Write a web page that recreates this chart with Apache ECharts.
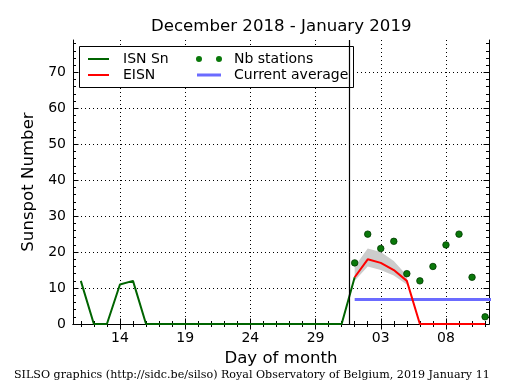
<!DOCTYPE html>
<html><head><meta charset="utf-8">
<script src="https://cdn.jsdelivr.net/npm/echarts@6/dist/echarts.min.js"></script>
<style>html,body{margin:0;padding:0;background:#fff}#c{width:515px;height:390px}</style>
</head><body><div id="c"></div>
<script>
// Day index: December days as-is, January days continue after 31 (Jan 1 = 32)
const isnDays   = [11,12,13,14,15,16,17,18,19,20,21,22,23,24,25,26,27,28,29,30,31,32];
const isnValues = [12, 0, 0,11,12, 0, 0, 0, 0, 0, 0, 0, 0, 0, 0, 0, 0, 0, 0, 0, 0,13];
const eisnDays   = [32,33,34,35,36,37,38,39,40,41,42];
const eisnValues = [13,18,17,15,12, 0, 0, 0, 0, 0, 0];
const bandDays  = [32,33,34,35,36];
const bandLower = [12,16,15,13.5,11];
const bandUpper = [16,21,20,17.5,13.5];
const stationDays   = [32,33,34,35,36,37,38,39,40,41,42];
const stationValues = [17,25,21,23,14,12,16,22,25,13, 2];
const averageDays   = [32,43];
const averageValues = [6.8,6.8];
const xTickDays   = [14,19,24,29,34,39];
const xTickLabels = ['14','19','24','29','03','08'];
const xMinorDays  = [11,12,13,14,15,16,17,18,19,20,21,22,23,24,25,26,27,28,29,30,31,32,33,34,35,36,37,38,39,40,41,42];
const yTicks      = [0,10,20,30,40,50,60,70];
const yMinor      = [0,2,4,6,8,10,12,14,16,18,20,22,24,26,28,30,32,34,36,38,40,42,44,46,48,50,52,54,56,58,60,62,64,66,68,70,72,74,76,78];
const monthBoundary = 31.55;

const X_MIN = 10.4, X_MAX = 42.3, Y_MIN = 0, Y_MAX = 79;
const FONT = 'DejaVu Sans';

const pair = (xs, ys) => xs.map((x, i) => [x, ys[i]]);

function xAxisDef(pos, major) {
  return {
    type: 'value', position: pos, min: X_MIN, max: X_MAX,
    axisLine: { show: major, lineStyle: { color: '#000', width: 1 } },
    axisTick: { show: true, inside: true, length: major ? 5.5 : 3, customValues: major ? xTickDays : xMinorDays,
                lineStyle: { color: '#000', width: 1 } },
    axisLabel: (pos === 'bottom' && major) ? {
      show: true, customValues: xTickDays, color: '#000', fontSize: 14, fontFamily: FONT, margin: 7,
      formatter: v => { const i = xTickDays.indexOf(v); return i >= 0 ? xTickLabels[i] : ''; }
    } : { show: false },
    splitLine: (pos === 'bottom' && major) ? { show: true, lineStyle: { color: '#000', width: 1, type: [1, 3] } } : { show: false },
    name: (pos === 'bottom' && major) ? 'Day of month' : '',
    nameLocation: 'middle', nameGap: 23,
    nameTextStyle: { color: '#000', fontSize: 16.6, fontFamily: FONT }
  };
}
function yAxisDef(pos, major) {
  return {
    type: 'value', position: pos, min: Y_MIN, max: Y_MAX,
    axisLine: { show: major, lineStyle: { color: '#000', width: 1 } },
    axisTick: { show: true, inside: true, length: major ? 5.5 : 3, customValues: major ? yTicks : yMinor,
                lineStyle: { color: '#000', width: 1 } },
    axisLabel: (pos === 'left' && major) ? {
      show: true, customValues: yTicks, color: '#000', fontSize: 14, fontFamily: FONT, margin: 7
    } : { show: false },
    splitLine: (pos === 'left' && major) ? { show: true, lineStyle: { color: '#000', width: 1, type: [1, 3] } } : { show: false },
    name: (pos === 'left' && major) ? 'Sunspot Number' : '',
    nameLocation: 'middle', nameGap: 34, nameRotate: 90,
    nameTextStyle: { color: '#000', fontSize: 16.6, fontFamily: FONT }
  };
}

const chart = echarts.init(document.getElementById('c'), null, { renderer: 'canvas' });
const lineIcon = 'path://M0,0M0,4h21v2h-21zM30,10';
const dotsIcon = 'path://M0,0M0,5a3,3 0 1,0 6,0a3,3 0 1,0 -6,0zM20,5a3,3 0 1,0 6,0a3,3 0 1,0 -6,0zM33,10';
const avgIcon  = 'path://M0,0M1,3.5h24v3h-24zM33,10';

chart.setOption({
  animation: false,
  backgroundColor: '#fff',
  textStyle: { fontFamily: FONT },
  title: [
    { text: 'December 2018 - January 2019', left: 151, top: 18, padding: 0,
      textStyle: { color: '#000', fontSize: 16.6, fontWeight: 'normal', fontFamily: FONT } },
    { text: 'SILSO graphics (http://sidc.be/silso) Royal Observatory of Belgium, 2019 January 11',
      left: 14, top: 370, padding: 0,
      textStyle: { color: '#000', fontSize: 11.1, fontWeight: 'normal', fontFamily: 'DejaVu Serif' } }
  ],
  grid: { left: 73, top: 40, width: 416, height: 284, containLabel: false },
  xAxis: [xAxisDef('bottom', true), xAxisDef('bottom', false), xAxisDef('top', true), xAxisDef('top', false)],
  yAxis: [yAxisDef('left', true), yAxisDef('left', false), yAxisDef('right', true), yAxisDef('right', false)],
  graphic: [{
    type: 'rect', z: 3, shape: { x: 79.5, y: 46.5, width: 274, height: 41 },
    style: { fill: '#fff', stroke: '#000', lineWidth: 1 }
  }],
  legend: [
    { left: 88, top: 51, padding: 0, orient: 'vertical', itemGap: 0, itemWidth: 30, itemHeight: 10, z: 5,
      itemStyle: { borderWidth: 0 },
      textStyle: { color: '#000', fontSize: 14, fontFamily: FONT, lineHeight: 16 },
      data: [{ name: 'ISN Sn', icon: lineIcon }, { name: 'EISN', icon: lineIcon }] },
    { left: 196, top: 51, padding: 0, orient: 'vertical', itemGap: 0, itemWidth: 33, itemHeight: 10, z: 5,
      itemStyle: { borderWidth: 0 },
      textStyle: { color: '#000', fontSize: 14, fontFamily: FONT, lineHeight: 16 },
      data: [{ name: 'Nb stations', icon: dotsIcon }, { name: 'Current average', icon: avgIcon }] }
  ],
  series: [
    { name: 'ISN Sn', type: 'line', data: pair(isnDays, isnValues), symbol: 'none', z: 2,
      lineStyle: { color: '#006400', width: 2 }, itemStyle: { color: '#006400' },
      markLine: { silent: true, symbol: 'none', label: { show: false },
        lineStyle: { color: '#000', width: 1.2, type: 'solid' }, data: [{ xAxis: monthBoundary }] } },
    { name: 'EISN band', type: 'custom', z: 2, clip: true,
      data: [[bandDays[0], bandLower[0]]],
      renderItem: (params, api) => {
        const pts = [];
        bandDays.forEach((d, i) => pts.push(api.coord([d, bandUpper[i]])));
        for (let i = bandDays.length - 1; i >= 0; i--) pts.push(api.coord([bandDays[i], bandLower[i]]));
        return { type: 'polygon', shape: { points: pts }, style: { fill: '#cccccc', stroke: null } };
      } },
    { name: 'Current average', type: 'line', data: pair(averageDays, averageValues), symbol: 'none', z: 3,
      lineStyle: { color: '#6b6bff', width: 3 }, itemStyle: { color: '#6b6bff' } },
    { name: 'EISN', type: 'line', data: pair(eisnDays, eisnValues), symbol: 'none', z: 4,
      lineStyle: { color: '#ff0000', width: 2 }, itemStyle: { color: '#ff0000' } },
    { name: 'Nb stations', type: 'scatter', data: pair(stationDays, stationValues), symbolSize: 6.5, z: 5,
      itemStyle: { color: '#0a780a', borderColor: '#003a00', borderWidth: 0.8, opacity: 1 } }
  ]
});
</script></body></html>
